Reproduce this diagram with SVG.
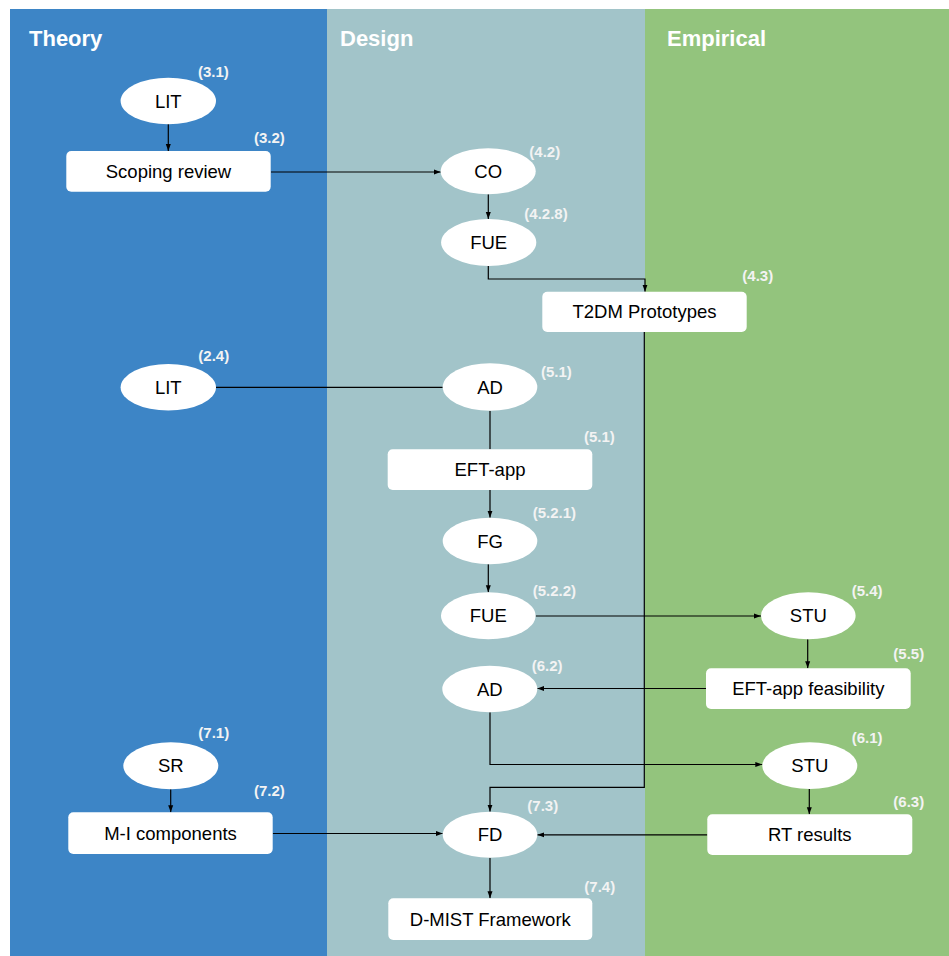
<svg xmlns="http://www.w3.org/2000/svg" width="949" height="956" viewBox="0 0 949 956">
  <style>
    .lane-title { font-family: "Liberation Sans", Arial, sans-serif; font-size: 22px; font-weight: bold; fill: #ffffff; }
    .node-shape { fill: #ffffff; stroke: none; }
    .node-text { font-family: "Liberation Sans", Arial, sans-serif; font-size: 18.5px; fill: #000000; text-anchor: middle; dominant-baseline: central; }
    .ref { font-family: "Liberation Sans", Arial, sans-serif; font-size: 15px; font-weight: bold; fill: #f3f3f3; }
    .edge { fill: none; stroke: #000000; stroke-width: 1.2; }
    .edge-arrow { marker-end: url(#arrow); }
  </style>
  <defs>
    <marker id="arrow" markerUnits="userSpaceOnUse" markerWidth="8" markerHeight="6" refX="7" refY="3" orient="auto">
      <path d="M0,0.5 L7,3 L0,5.5 z" fill="#000000"/>
    </marker>
  </defs>

  <rect width="949" height="956" fill="#ffffff"/>

  <!-- Swimlanes -->
  <g id="lanes">
    <rect x="10" y="9" width="317" height="947" fill="#3d85c6"/>
    <rect x="327" y="9" width="318" height="947" fill="#a2c4c9"/>
    <rect x="645" y="9" width="304" height="947" fill="#93c47d"/>
    <text class="lane-title" x="29" y="46">Theory</text>
    <text class="lane-title" x="340" y="46">Design</text>
    <text class="lane-title" x="667" y="46">Empirical</text>
  </g>

  <!-- Connectors -->
  <g id="connectors">
    <line class="edge edge-arrow" x1="168.3" y1="124" x2="168.3" y2="151"/>
    <line class="edge edge-arrow" x1="271" y1="172" x2="440.7" y2="172"/>
    <line class="edge edge-arrow" x1="488.3" y1="194.3" x2="488.3" y2="219"/>
    <polyline class="edge edge-arrow" points="488.3,266 488.3,279 645,279 645,291.7"/>
    <line class="edge" x1="216" y1="387.3" x2="442.7" y2="387.3"/>
    <line class="edge" x1="490" y1="410.7" x2="490" y2="449.3"/>
    <line class="edge edge-arrow" x1="490" y1="490" x2="490" y2="517.7"/>
    <line class="edge edge-arrow" x1="488.3" y1="564.3" x2="488.3" y2="592.3"/>
    <line class="edge edge-arrow" x1="535.7" y1="616" x2="761" y2="616"/>
    <line class="edge edge-arrow" x1="807.7" y1="639.3" x2="807.7" y2="668.3"/>
    <line class="edge edge-arrow" x1="706" y1="688.5" x2="537.3" y2="688.5"/>
    <polyline class="edge edge-arrow" points="490,712.3 490,764.5 762.3,764.5"/>
    <line class="edge edge-arrow" x1="809.3" y1="789" x2="809.3" y2="814.3"/>
    <polyline class="edge edge-arrow" points="644.3,332 644.3,787.3 490,787.3 490,811.7"/>
    <line class="edge edge-arrow" x1="170.7" y1="789.3" x2="170.7" y2="812.3"/>
    <line class="edge edge-arrow" x1="272.7" y1="833.5" x2="442.7" y2="833.5"/>
    <line class="edge edge-arrow" x1="707.3" y1="834.8" x2="537.3" y2="834.8"/>
    <line class="edge edge-arrow" x1="490" y1="857.7" x2="490" y2="898.3"/>
  </g>

  <!-- Theory lane nodes -->
  <g id="lit-3-1">
    <ellipse class="node-shape" cx="168.3" cy="101" rx="47.7" ry="23.3"/>
    <text class="node-text" x="168.3" y="101">LIT</text>
    <text class="ref" x="198" y="77">(3.1)</text>
  </g>
  <g id="scoping-review">
    <rect class="node-shape" x="66.3" y="151" width="204.4" height="40.7" rx="5"/>
    <text class="node-text" x="168.5" y="171.5">Scoping review</text>
    <text class="ref" x="254" y="143">(3.2)</text>
  </g>
  <g id="lit-2-4">
    <ellipse class="node-shape" cx="168.3" cy="387.3" rx="47.7" ry="23.3"/>
    <text class="node-text" x="168.3" y="387.3">LIT</text>
    <text class="ref" x="198.3" y="361">(2.4)</text>
  </g>
  <g id="sr">
    <ellipse class="node-shape" cx="170.8" cy="765.8" rx="47.5" ry="23.5"/>
    <text class="node-text" x="170.8" y="765.8">SR</text>
    <text class="ref" x="198.3" y="738.3">(7.1)</text>
  </g>
  <g id="mi-components">
    <rect class="node-shape" x="68.3" y="812.3" width="204.4" height="41.7" rx="5"/>
    <text class="node-text" x="170.5" y="833.2">M-I components</text>
    <text class="ref" x="254" y="796">(7.2)</text>
  </g>

  <!-- Design lane nodes -->
  <g id="co">
    <ellipse class="node-shape" cx="488.2" cy="171.3" rx="47.5" ry="23"/>
    <text class="node-text" x="488.2" y="171.3">CO</text>
    <text class="ref" x="529.3" y="157">(4.2)</text>
  </g>
  <g id="fue-4-2-8">
    <ellipse class="node-shape" cx="488.7" cy="242.5" rx="47.6" ry="23.5"/>
    <text class="node-text" x="488.7" y="242.5">FUE</text>
    <text class="ref" x="524.3" y="219.3">(4.2.8)</text>
  </g>
  <g id="ad-5-1">
    <ellipse class="node-shape" cx="490" cy="387" rx="47.3" ry="23.7"/>
    <text class="node-text" x="490" y="387">AD</text>
    <text class="ref" x="541" y="376.7">(5.1)</text>
  </g>
  <g id="eft-app">
    <rect class="node-shape" x="387.7" y="449.3" width="204.6" height="40.7" rx="5"/>
    <text class="node-text" x="490" y="469.7">EFT-app</text>
    <text class="ref" x="584" y="441.7">(5.1)</text>
  </g>
  <g id="fg">
    <ellipse class="node-shape" cx="490" cy="541" rx="47.3" ry="23.3"/>
    <text class="node-text" x="490" y="541">FG</text>
    <text class="ref" x="532.7" y="518.3">(5.2.1)</text>
  </g>
  <g id="fue-5-2-2">
    <ellipse class="node-shape" cx="488.3" cy="615.8" rx="47.3" ry="23.5"/>
    <text class="node-text" x="488.3" y="615.8">FUE</text>
    <text class="ref" x="532.7" y="595.7">(5.2.2)</text>
  </g>
  <g id="ad-6-2">
    <ellipse class="node-shape" cx="489.8" cy="689" rx="47.5" ry="23.3"/>
    <text class="node-text" x="489.8" y="689">AD</text>
    <text class="ref" x="531.7" y="670.7">(6.2)</text>
  </g>
  <g id="fd">
    <ellipse class="node-shape" cx="490" cy="834.7" rx="47.3" ry="23"/>
    <text class="node-text" x="490" y="834.7">FD</text>
    <text class="ref" x="527.3" y="810.7">(7.3)</text>
  </g>
  <g id="d-mist-framework">
    <rect class="node-shape" x="388.3" y="898.3" width="204" height="41.7" rx="5"/>
    <text class="node-text" x="490.3" y="919.2">D-MIST Framework</text>
    <text class="ref" x="584.3" y="892.3">(7.4)</text>
  </g>

  <!-- Boundary node between Design and Empirical -->
  <g id="t2dm-prototypes">
    <rect class="node-shape" x="542.3" y="291.7" width="204.4" height="40.3" rx="5"/>
    <text class="node-text" x="644.5" y="311.8">T2DM Prototypes</text>
    <text class="ref" x="742.3" y="281">(4.3)</text>
  </g>

  <!-- Empirical lane nodes -->
  <g id="stu-5-4">
    <ellipse class="node-shape" cx="808.3" cy="615.8" rx="47.3" ry="23.5"/>
    <text class="node-text" x="808.3" y="615.8">STU</text>
    <text class="ref" x="851.7" y="595.7">(5.4)</text>
  </g>
  <g id="eft-app-feasibility">
    <rect class="node-shape" x="706" y="668.3" width="204.7" height="40.7" rx="5"/>
    <text class="node-text" x="808.3" y="688.7">EFT-app feasibility</text>
    <text class="ref" x="893.3" y="659">(5.5)</text>
  </g>
  <g id="stu-6-1">
    <ellipse class="node-shape" cx="809.8" cy="765.7" rx="47.5" ry="23.4"/>
    <text class="node-text" x="809.8" y="765.7">STU</text>
    <text class="ref" x="851.7" y="743.3">(6.1)</text>
  </g>
  <g id="rt-results">
    <rect class="node-shape" x="707.3" y="814.3" width="205" height="40.7" rx="5"/>
    <text class="node-text" x="809.8" y="834.7">RT results</text>
    <text class="ref" x="893.3" y="806.7">(6.3)</text>
  </g>
</svg>
